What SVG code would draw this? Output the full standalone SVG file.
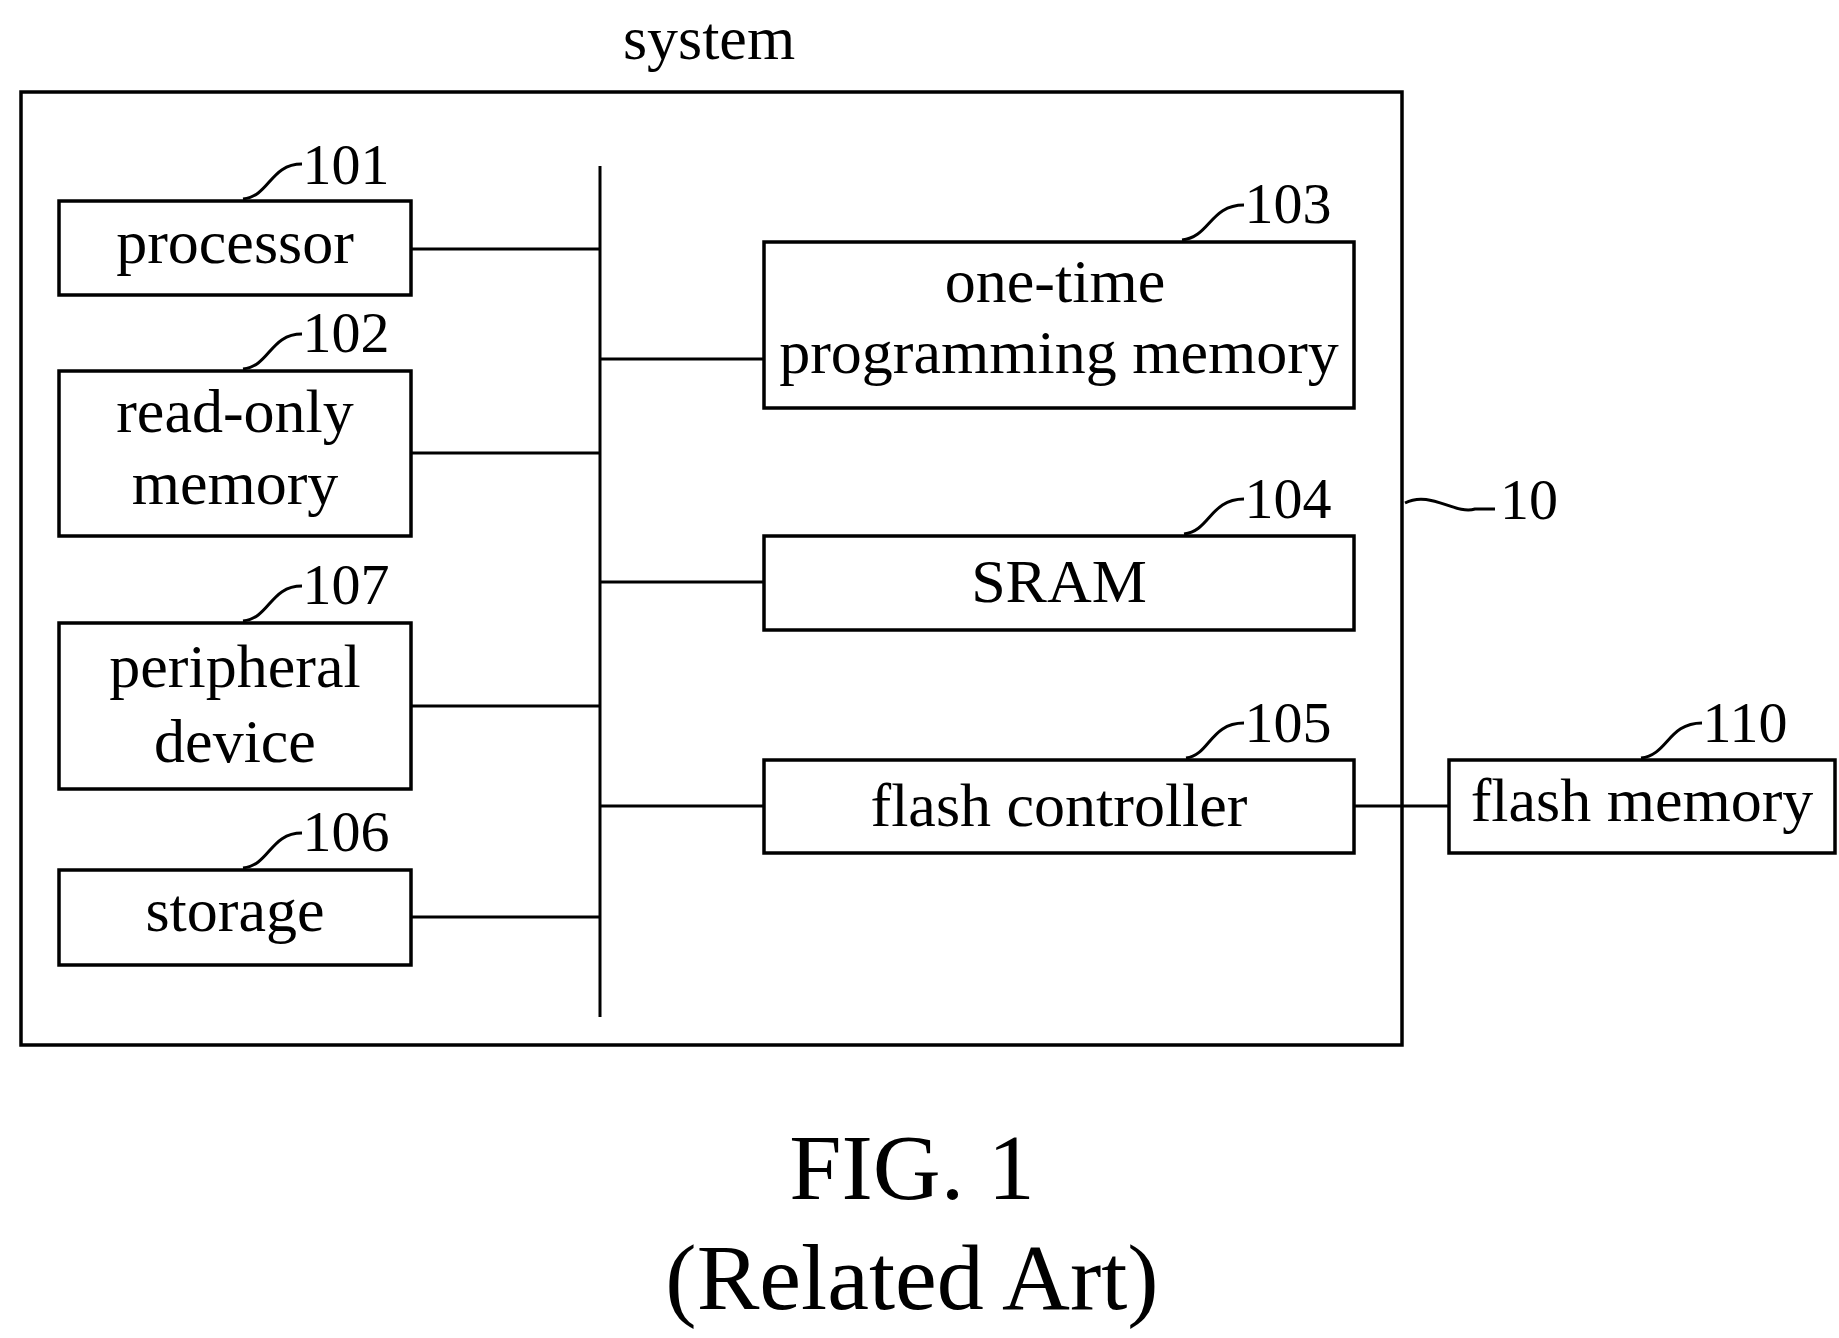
<svg xmlns="http://www.w3.org/2000/svg" width="1839" height="1338" viewBox="0 0 1839 1338">
<style>
.b{fill:#fff;stroke:#000;stroke-width:3.5}
.l{fill:none;stroke:#000;stroke-width:3}
.t{font-family:"Liberation Serif",serif;font-size:62px;text-anchor:middle;fill:#000}
.n{font-family:"Liberation Serif",serif;font-size:58px;text-anchor:middle;fill:#000}
</style>
<rect width="1839" height="1338" fill="#fff"/>
<g id="system"><rect class="b" x="21" y="92" width="1381" height="953"/><text class="t" x="709" y="59">system</text>
<path class="l" d="M1405,503 C1430,490 1455,515 1475,509 L1495,509"/><text class="n" x="1529" y="519">10</text></g>
<g id="connectors">
<path class="l" d="M600,166V1017M411,249H600M411,453H600M411,706H600M411,917H600M600,359H764M600,582H764M600,806H764M1354,806H1449"/>
</g>
<g id="n101"><rect class="b" x="59" y="201" width="352" height="94"/><text class="t" x="235" y="263">processor</text>
<path class="l" d="M243,199 C270,196 270,164 302,164"/><text class="n" x="346" y="184">101</text></g>
<g id="n102"><rect class="b" x="59" y="371" width="352" height="165"/><text class="t" x="235" y="432">read-only</text><text class="t" x="235" y="504">memory</text>
<path class="l" d="M243,369 C270,366 270,334 302,334"/><text class="n" x="346" y="352">102</text></g>
<g id="n107"><rect class="b" x="59" y="623" width="352" height="166"/><text class="t" x="235" y="687">peripheral</text><text class="t" x="235" y="762">device</text>
<path class="l" d="M243,621 C270,618 270,586 302,586"/><text class="n" x="346" y="604">107</text></g>
<g id="n106"><rect class="b" x="59" y="870" width="352" height="95"/><text class="t" x="235" y="931">storage</text>
<path class="l" d="M243,868 C270,865 270,833 302,833"/><text class="n" x="346" y="851">106</text></g>
<g id="n103"><rect class="b" x="764" y="242" width="590" height="166"/><text class="t" x="1055" y="302">one-time</text><text class="t" x="1059" y="373">programming memory</text>
<path class="l" d="M1182,240 C1210,237 1210,205 1244,205"/><text class="n" x="1288" y="223">103</text></g>
<g id="n104"><rect class="b" x="764" y="536" width="590" height="94"/><text class="t" x="1059" y="602">SRAM</text>
<path class="l" d="M1184,534 C1210,531 1210,499 1244,499"/><text class="n" x="1288" y="518">104</text></g>
<g id="n105"><rect class="b" x="764" y="760" width="590" height="93"/><text class="t" x="1059" y="826">flash controller</text>
<path class="l" d="M1186,758 C1210,755 1210,723 1244,723"/><text class="n" x="1288" y="742">105</text></g>
<g id="n110"><rect class="b" x="1449" y="760" width="386" height="93"/><text class="t" x="1642" y="821">flash memory</text>
<path class="l" d="M1641,758 C1668,755 1668,723 1702,723"/><text class="n" x="1745" y="742">110</text></g>
<text class="t" x="912" y="1199" style="font-size:94px">FIG. 1</text>
<text class="t" x="912" y="1309" style="font-size:94px">(Related Art)</text>
</svg>
